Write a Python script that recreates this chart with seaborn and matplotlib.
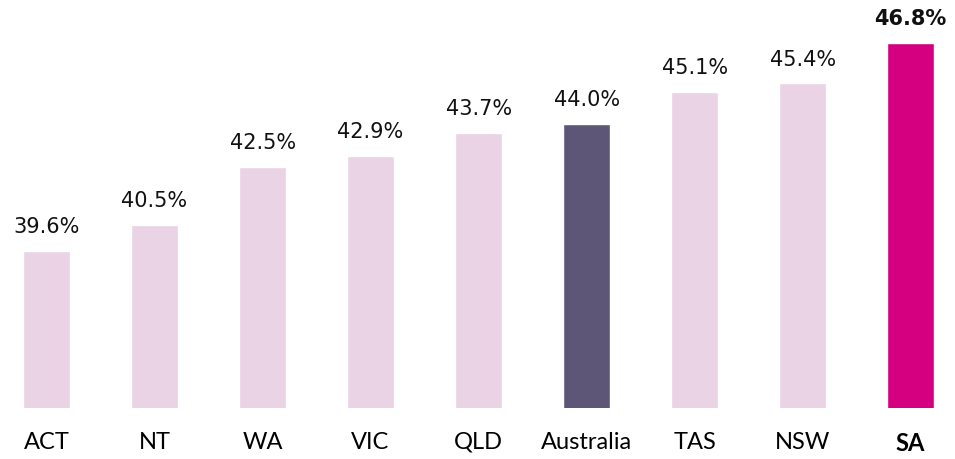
import matplotlib
matplotlib.use("Agg")
import pandas as pd
import seaborn as sns
import matplotlib.pyplot as plt

regions = ["ACT", "NT", "WA", "VIC", "QLD", "Australia", "TAS", "NSW", "SA"]
values = [39.6, 40.5, 42.5, 42.9, 43.7, 44.0, 45.1, 45.4, 46.8]
colours = ["#E9D3E5"] * 5 + ["#5E5677"] + ["#E9D3E5"] * 2 + ["#D5007F"]

df = pd.DataFrame({"region": regions, "value": values})

sns.set_theme(style="white")

fig = plt.figure(figsize=(9.55, 4.59), dpi=100)
ax = fig.add_axes([0, 51 / 459, 1, 408 / 459])

sns.barplot(x="region", y="value", hue="region", data=df, palette=colours,
            width=0.435, legend=False, ax=ax, saturation=1)

ax.set_xlim(-0.431, 8.411)
ax.set_ylim(34.165, 48.29)
ax.set_xlabel("")
ax.set_ylabel("")
ax.set_yticks([])
sns.despine(ax=ax, left=True, bottom=True)
ax.tick_params(axis="x", length=0, pad=17, labelsize=17)

for lbl in ax.get_xticklabels():
    lbl.set_family("Lato")
    lbl.set_color("#000000")
    if lbl.get_text() == "SA":
        lbl.set_fontweight("bold")

for i, v in enumerate(values):
    ax.annotate(f"{v:.1f}%", (i, v), xytext=(0, 10), textcoords="offset points",
                ha="center", va="bottom", fontsize=15, color="#111111",
                family="DejaVu Sans",
                fontweight="bold" if regions[i] == "SA" else "normal")

fig.savefig("out.png", dpi=100)
